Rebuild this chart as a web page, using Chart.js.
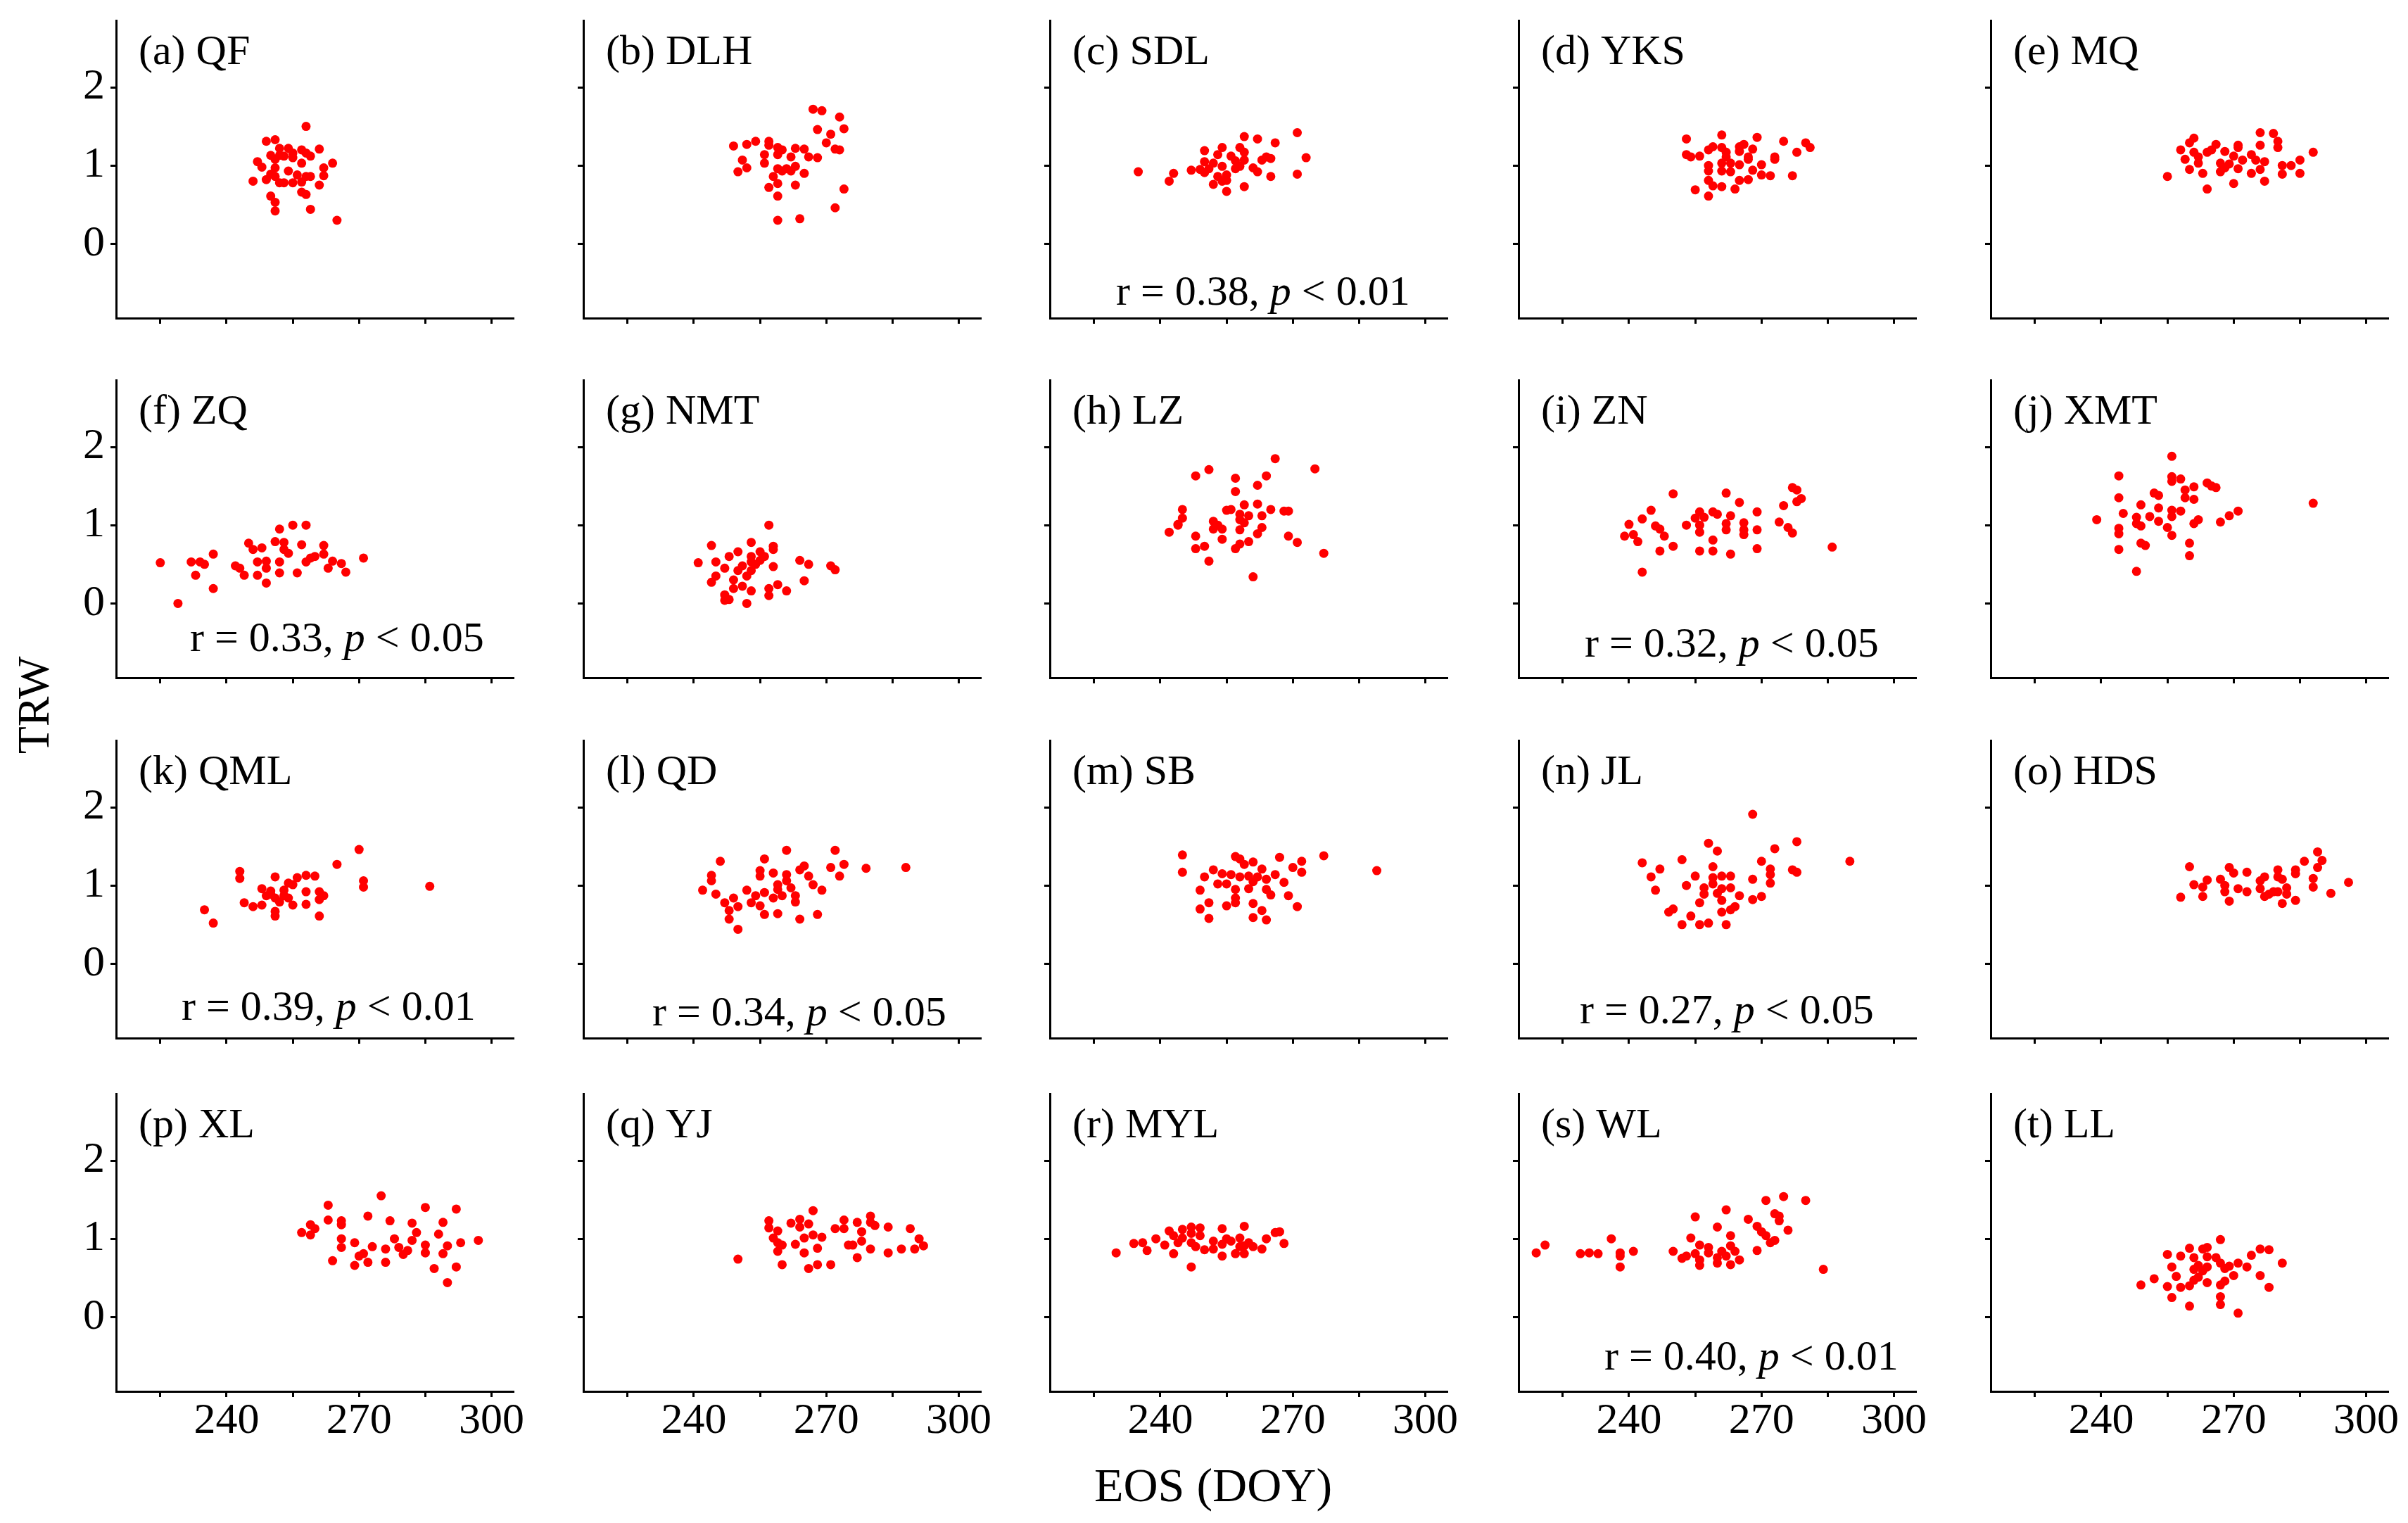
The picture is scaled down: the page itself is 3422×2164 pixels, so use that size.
<!DOCTYPE html>
<html>
<head>
<meta charset="utf-8">
<title>TRW vs EOS</title>
<script src="https://cdn.jsdelivr.net/npm/chart.js@4.4.1/dist/chart.umd.min.js"></script>
<style>
  html, body { margin: 0; padding: 0; background: #fff; }
  body { width: 3422px; height: 2164px; position: relative; overflow: hidden;
         font-family: "Liberation Serif", "Times New Roman", Times, "Nimbus Roman", "DejaVu Serif", serif; }
  .panel { position: absolute; }
  .axis-title { position: absolute; color: #000; white-space: nowrap;
                transform: translate(-50%, -50%); }
  #ylab { font-size: 64px; transform: translate(-50%, -50%) rotate(-90deg); }
  #xlab { font-size: 68px; }
</style>
</head>
<body>
<div id="ylab" class="axis-title" style="left:48px;top:1002px;">TRW</div>
<div id="xlab" class="axis-title" style="left:1724px;top:2110px;">EOS (DOY)</div>
<script>
/* ── data: EOS (DOY) vs TRW per site ── */
const eosQF  = [258,249,251,252,254,257,261,250,253,255,259,258,247,248,251,257,264,262,251,254,256,250,262,246,249,251,252,253,255,257,258,259,261,257,258,250,251,251,259,265,252,255];
const trwQF  = [1.50,1.31,1.33,1.22,1.22,1.20,1.21,1.13,1.12,1.10,1.12,1.16,1.05,0.98,1.08,1.03,1.03,0.97,0.97,0.93,0.88,0.89,0.87,0.80,0.82,0.86,0.78,0.78,0.78,0.79,0.86,0.86,0.75,0.66,0.63,0.61,0.53,0.42,0.44,0.30,1.13,1.16];

const eosDLH = [267,269,273,268,274,271,270,272,273,249,252,254,257,257,259,260,263,265,256,259,262,266,268,251,256,252,250,259,261,263,260,262,265,258,259,257,263,274,259,272,259,264];
const trwDLH = [1.72,1.70,1.62,1.46,1.47,1.40,1.29,1.21,1.20,1.25,1.27,1.31,1.31,1.26,1.23,1.20,1.22,1.21,1.14,1.14,1.11,1.11,1.10,1.07,1.03,0.97,0.92,0.96,0.96,0.99,0.93,0.93,0.90,0.86,0.77,0.72,0.75,0.70,0.61,0.46,0.30,0.32];

const eosSDL = [271,259,262,266,250,254,258,253,256,259,264,265,273,250,252,257,259,263,235,243,242,247,249,251,254,257,258,261,262,265,271,253,255,252,254,259,255,250,255];
const trwSDL = [1.42,1.37,1.34,1.29,1.19,1.23,1.23,1.14,1.12,1.17,1.11,1.09,1.10,1.05,1.03,1.06,1.07,1.07,0.92,0.90,0.80,0.94,0.95,0.96,0.99,0.96,0.99,0.97,0.92,0.86,0.89,0.86,0.88,0.76,0.80,0.73,0.67,0.91,0.81];

const eosYKS = [253,261,269,275,280,281,278,266,265,259,258,261,262,268,253,254,256,262,265,267,267,273,273,261,263,265,270,258,258,261,263,268,270,272,277,258,265,267,259,261,264,255,258];
const trwYKS = [1.34,1.39,1.36,1.31,1.29,1.23,1.17,1.27,1.24,1.24,1.20,1.23,1.17,1.21,1.14,1.11,1.12,1.11,1.18,1.11,1.08,1.11,1.08,1.03,1.03,1.01,1.01,1.00,0.93,0.93,0.92,0.94,0.88,0.87,0.87,0.81,0.81,0.82,0.74,0.73,0.70,0.69,0.61];

const eosMQ  = [276,279,280,280,276,261,260,266,271,258,261,264,265,268,271,274,288,259,262,270,272,275,277,285,262,267,269,281,283,260,268,271,276,255,263,267,274,281,285,270,277,264];
const trwMQ  = [1.42,1.41,1.31,1.23,1.26,1.35,1.29,1.27,1.26,1.20,1.17,1.17,1.20,1.18,1.23,1.14,1.17,1.08,1.11,1.12,1.07,1.07,1.05,1.07,1.03,1.03,1.02,1.00,1.00,0.95,0.97,0.96,0.95,0.86,0.90,0.92,0.90,0.89,0.90,0.77,0.80,0.70];

const eosZQ  = [225,229,232,234,235,233,237,237,242,243,244,245,246,248,247,247,249,249,249,251,252,253,252,252,253,254,255,258,257,256,258,259,260,262,262,264,263,266,267,271];
const trwZQ  = [0.52,0.00,0.53,0.53,0.50,0.36,0.63,0.19,0.48,0.45,0.36,0.77,0.69,0.71,0.53,0.36,0.54,0.45,0.26,0.79,0.95,0.78,0.53,0.39,0.69,0.64,1.00,1.00,0.75,0.39,0.53,0.58,0.60,0.74,0.63,0.54,0.45,0.51,0.40,0.58];

const eosNMT = [257,244,253,258,258,250,248,253,255,256,264,266,271,272,241,245,247,251,253,254,258,250,253,252,245,244,249,265,259,251,249,253,257,261,247,257,247,248,252,255];
const trwNMT = [1.00,0.74,0.78,0.73,0.69,0.66,0.60,0.60,0.66,0.60,0.55,0.50,0.48,0.43,0.52,0.53,0.45,0.48,0.53,0.50,0.47,0.42,0.42,0.35,0.35,0.27,0.30,0.29,0.24,0.22,0.19,0.16,0.19,0.16,0.11,0.10,0.04,0.05,0.00,0.55];

const eosLZ  = [266,251,275,248,264,257,262,257,245,255,256,259,262,265,268,269,258,260,263,245,258,252,259,244,244,253,252,254,263,258,242,248,262,269,254,271,258,260,248,250,257,277,251,261];
const trwLZ  = [1.85,1.71,1.72,1.63,1.63,1.60,1.51,1.43,1.20,1.19,1.20,1.26,1.27,1.20,1.18,1.18,1.14,1.12,1.12,1.09,1.07,1.05,1.03,1.01,1.00,1.00,0.95,0.95,0.97,0.94,0.91,0.86,0.89,0.86,0.82,0.78,0.76,0.79,0.70,0.73,0.70,0.64,0.54,0.34];

const eosZN  = [277,278,279,278,275,250,262,265,269,245,256,259,260,263,255,257,243,240,253,256,262,266,274,246,247,276,277,269,266,262,256,239,241,248,242,259,266,250,247,256,259,263,269,286,243];
const trwZN  = [1.48,1.45,1.34,1.30,1.25,1.40,1.41,1.29,1.17,1.19,1.17,1.17,1.14,1.12,1.09,1.10,1.08,1.01,1.00,1.00,1.02,1.03,1.04,0.99,0.95,0.97,0.90,0.94,0.94,0.94,0.91,0.86,0.88,0.86,0.79,0.81,0.88,0.73,0.67,0.67,0.67,0.63,0.70,0.72,0.40];

const eosXMT = [256,244,256,258,256,261,264,266,265,259,252,253,244,259,261,249,288,245,253,256,258,256,251,248,239,271,269,253,267,262,261,248,249,244,255,244,256,249,250,260,244,260,248];
const trwXMT = [1.88,1.63,1.62,1.59,1.56,1.49,1.54,1.48,1.50,1.45,1.41,1.38,1.35,1.35,1.33,1.26,1.28,1.15,1.22,1.19,1.18,1.11,1.11,1.10,1.07,1.18,1.12,1.05,1.04,1.07,1.02,1.02,0.99,0.96,0.97,0.89,0.87,0.77,0.74,0.77,0.69,0.61,0.41];

const eosQML = [270,265,243,243,251,256,258,260,254,255,271,271,286,248,250,253,258,261,249,251,253,262,261,244,246,248,252,255,258,251,251,261,235,237,254,250];
const trwQML = [1.46,1.27,1.18,1.09,1.11,1.10,1.13,1.12,1.03,1.01,1.06,0.98,0.99,0.96,0.93,0.94,0.92,0.92,0.87,0.84,0.87,0.87,0.82,0.78,0.73,0.75,0.79,0.75,0.76,0.67,0.61,0.61,0.69,0.52,0.84,0.89];

const eosQD  = [261,272,246,256,265,274,271,279,288,255,258,264,255,261,244,244,266,273,261,259,267,262,242,252,259,269,245,256,254,260,263,249,258,253,263,247,250,255,248,256,259,268,248,264,250];
const trwQD  = [1.45,1.45,1.31,1.34,1.25,1.27,1.23,1.22,1.23,1.19,1.16,1.20,1.12,1.14,1.13,1.06,1.12,1.12,1.06,1.01,1.01,0.97,0.94,0.94,0.95,0.94,0.89,0.91,0.87,0.87,0.87,0.84,0.84,0.78,0.79,0.78,0.73,0.74,0.68,0.63,0.64,0.63,0.57,0.57,0.44];

const eosSB  = [245,245,257,258,259,261,267,272,277,289,263,270,272,252,250,254,256,258,260,262,264,266,261,253,255,260,257,268,264,249,265,269,257,257,251,255,261,271,249,263,251,261,264];
const trwSB  = [1.39,1.17,1.37,1.34,1.27,1.30,1.36,1.31,1.38,1.19,1.21,1.23,1.17,1.20,1.11,1.15,1.14,1.11,1.12,1.11,1.08,1.14,1.05,1.02,1.02,0.96,0.95,1.04,0.95,0.94,0.88,0.87,0.84,0.78,0.78,0.74,0.77,0.73,0.70,0.68,0.58,0.59,0.56];

const eosJL  = [268,278,258,260,273,252,243,270,290,247,259,272,272,277,278,245,255,259,261,263,268,272,253,257,259,261,263,246,257,260,265,270,261,268,256,264,263,250,249,261,254,252,256,258,262];
const trwJL  = [1.91,1.56,1.54,1.44,1.47,1.33,1.29,1.31,1.31,1.21,1.24,1.21,1.14,1.20,1.17,1.11,1.12,1.10,1.12,1.12,1.08,1.03,1.00,0.97,1.02,0.96,0.97,0.94,0.89,0.90,0.87,0.86,0.81,0.82,0.78,0.73,0.69,0.70,0.66,0.66,0.61,0.50,0.50,0.52,0.50];

const eosHDS = [260,258,261,263,264,263,267,268,268,269,270,269,271,273,273,276,277,276,277,278,280,280,281,280,282,282,281,284,284,284,286,289,290,289,288,288,292,296,279];
const trwHDS = [1.24,0.85,1.01,0.98,1.07,0.86,1.08,1.00,0.92,1.23,1.16,0.80,0.96,1.17,0.92,1.06,1.11,0.96,0.86,0.89,1.20,1.11,1.08,0.92,0.97,0.89,0.77,1.20,1.15,0.81,1.31,1.43,1.32,1.23,1.09,0.98,0.90,1.04,0.92];

const eosXL  = [275,263,285,292,272,263,266,266,277,282,289,259,260,257,259,283,288,266,278,282,269,293,297,285,290,266,273,276,279,281,271,270,280,285,289,264,272,276,269,287,292,290];
const trwXL  = [1.55,1.43,1.40,1.38,1.29,1.24,1.23,1.18,1.23,1.20,1.21,1.18,1.13,1.08,1.05,1.08,1.06,1.00,1.00,0.98,0.95,0.95,0.98,0.92,0.91,0.89,0.90,0.87,0.89,0.85,0.81,0.78,0.80,0.82,0.81,0.72,0.70,0.70,0.66,0.62,0.64,0.44];

const eosYJ  = [267,257,257,262,264,264,266,274,277,280,280,281,284,289,272,274,259,278,267,265,269,258,259,260,263,275,276,278,291,292,268,280,287,290,259,265,284,277,250,260,268,271,266];
const trwYJ  = [1.36,1.23,1.14,1.20,1.25,1.15,1.19,1.24,1.21,1.29,1.21,1.17,1.15,1.13,1.13,1.13,1.10,1.09,1.05,1.01,1.02,1.01,0.95,0.92,0.93,0.92,0.92,0.97,1.00,0.91,0.88,0.87,0.87,0.87,0.84,0.82,0.82,0.76,0.74,0.67,0.67,0.67,0.62];

const eosMYL = [230,234,236,237,239,241,242,243,243,244,245,245,247,247,247,248,249,249,250,252,252,254,254,254,255,256,258,259,258,257,259,260,261,263,264,266,267,268,247,259];
const trwMYL = [0.82,0.94,0.95,0.85,1.00,0.92,1.10,1.04,0.81,0.95,1.12,1.01,1.15,1.07,0.95,0.90,1.14,1.04,0.86,0.87,0.97,1.13,0.93,0.78,1.00,0.97,1.01,1.16,0.90,0.81,0.81,0.95,0.90,0.87,1.00,1.08,1.09,0.94,0.64,0.91];

const eosWL  = [219,221,229,231,233,236,238,238,238,241,250,252,253,256,256,255,254,255,256,258,258,260,260,260,261,262,262,263,263,263,264,265,267,269,269,270,271,272,273,273,274,274,276,271,275,280,284];
const trwWL  = [0.82,0.92,0.81,0.82,0.81,1.00,0.82,0.78,0.64,0.84,0.84,0.75,0.78,0.73,0.66,0.81,1.01,1.28,0.92,0.89,0.82,1.15,0.76,0.69,0.84,1.37,0.78,1.04,0.91,0.67,0.84,0.73,1.25,1.16,0.85,1.09,1.04,0.95,0.98,1.32,1.29,1.23,1.11,1.49,1.54,1.49,0.61];

const eosLL  = [267,260,263,264,276,278,255,258,261,264,266,274,281,271,269,273,267,256,262,264,261,263,268,257,262,270,276,252,261,268,249,255,258,260,264,267,278,256,267,267,260,271];
const trwLL  = [0.99,0.88,0.87,0.89,0.87,0.86,0.80,0.78,0.76,0.77,0.76,0.79,0.69,0.69,0.65,0.64,0.69,0.64,0.66,0.64,0.61,0.59,0.62,0.52,0.51,0.53,0.53,0.49,0.47,0.46,0.41,0.39,0.38,0.40,0.44,0.41,0.38,0.25,0.26,0.16,0.14,0.05];

const panelIds   = ['a','b','c','d','e','f','g','h','i','j','k','l','m','n','o','p','q','r','s','t'];
const siteNames  = ['QF','DLH','SDL','YKS','MQ','ZQ','NMT','LZ','ZN','XMT','QML','QD','SB','JL','HDS','XL','YJ','MYL','WL','LL'];
const eosSeries  = [eosQF,eosDLH,eosSDL,eosYKS,eosMQ,eosZQ,eosNMT,eosLZ,eosZN,eosXMT,eosQML,eosQD,eosSB,eosJL,eosHDS,eosXL,eosYJ,eosMYL,eosWL,eosLL];
const trwSeries  = [trwQF,trwDLH,trwSDL,trwYKS,trwMQ,trwZQ,trwNMT,trwLZ,trwZN,trwXMT,trwQML,trwQD,trwSB,trwJL,trwHDS,trwXL,trwYJ,trwMYL,trwWL,trwLL];

// significant correlations (r, p threshold)
const statPanels = ['c','f','i','k','l','n','s'];
const statR      = ['0.38','0.33','0.32','0.39','0.34','0.27','0.40'];
const statP      = ['0.01','0.05','0.05','0.01','0.05','0.05','0.01'];

const xTicks  = [225, 240, 255, 270, 285, 300];
const xLabels = [240, 270, 300];
const yTicks  = [0, 1, 2];

/* ── layout ── */
const COL_X    = [165, 829, 1492, 2158, 2829];   // y-axis line
const ROW_TOP  = [22.5, 534, 1045.5, 1548];      // top of plot area
const PLOT_W = 565, PLOT_H = 429;
const Y_W = 100, X_H = 90, PAD_R = 60;
const FONT = '"Liberation Serif", "Times New Roman", Times, "Nimbus Roman", "DejaVu Serif", serif';
// where the r/p note sits: [offset from y-axis, baseline above x-axis]
const statPos = { c: [94, 19], f: [105, 38], i: [94, 30], k: [93, 26], l: [98, 18], n: [87, 21], s: [122, 31] };

const panelText = {
  id: 'panelText',
  afterDraw(chart, args, opts) {
    const { ctx, chartArea: a } = chart;
    ctx.save();
    ctx.fillStyle = '#000';
    ctx.textAlign = 'left';
    ctx.textBaseline = 'alphabetic';
    ctx.font = `60px ${FONT}`;
    ctx.fillText(opts.title, a.left + 32, a.top + 61);
    if (opts.stat) {
      const [r, p] = opts.stat;
      const [dx, dy] = opts.pos;
      let x = a.left + dx;
      const y = a.bottom - dy;
      [[`r = ${r}, `, ''], ['p', 'italic '], [` < ${p}`, '']].forEach(([t, st]) => {
        ctx.font = `${st}60px ${FONT}`;
        ctx.fillText(t, x, y);
        x += ctx.measureText(t).width;
      });
    }
    ctx.restore();
  }
};

function makePanel(k) {
  const col = k % 5, row = Math.floor(k / 5);
  const id = panelIds[k];
  const leftCol = col === 0, bottomRow = row === 3;

  const box = document.createElement('div');
  box.className = 'panel';
  const w = Y_W + PLOT_W + PAD_R, h = PLOT_H + X_H;
  box.style.left = (COL_X[col] - Y_W) + 'px';
  box.style.top = ROW_TOP[row] + 'px';
  box.style.width = w + 'px';
  box.style.height = h + 'px';
  const cv = document.createElement('canvas');
  cv.width = w; cv.height = h;
  box.appendChild(cv);
  document.body.appendChild(box);

  const si = statPanels.indexOf(id);
  const axisCommon = {
    type: 'linear',
    grid: { drawOnChartArea: false, drawTicks: true, tickLength: 8, tickWidth: 3, tickColor: '#000' },
    border: { display: true, color: '#000', width: 3 },
  };

  new Chart(cv, {
    type: 'scatter',
    data: {
      datasets: [{
        data: eosSeries[k].map((x, i) => ({ x, y: trwSeries[k][i] })),
        backgroundColor: '#ff0000',
        borderWidth: 0,
        pointRadius: 6.5,
        pointHoverRadius: 6.5,
      }],
    },
    options: {
      responsive: false,
      animation: false,
      devicePixelRatio: 1,
      events: [],
      layout: { padding: { left: 0, right: PAD_R, top: 0, bottom: 0 } },
      plugins: {
        legend: { display: false },
        tooltip: { enabled: false },
        panelText: {
          title: `(${id}) ${siteNames[k]}`,
          stat: si >= 0 ? [statR[si], statP[si]] : null,
          pos: statPos[id],
        },
      },
      scales: {
        x: {
          ...axisCommon,
          min: 215, max: 305,
          afterBuildTicks: s => { s.ticks = xTicks.map(v => ({ value: v })); },
          afterFit: s => { s.height = X_H; s.paddingLeft = 0; s.paddingRight = 0; },
          ticks: {
            autoSkip: false, maxRotation: 0, padding: -2, color: '#000',
            font: { family: FONT, size: 62 },
            callback: v => (bottomRow && xLabels.includes(v)) ? String(v) : '',
          },
        },
        y: {
          ...axisCommon,
          min: -0.95, max: 2.85,
          afterBuildTicks: s => { s.ticks = yTicks.map(v => ({ value: v })); },
          afterFit: s => { s.width = Y_W; s.paddingTop = 0; s.paddingBottom = 0; },
          ticks: {
            autoSkip: false, padding: 8, color: '#000',
            font: { family: FONT, size: 62 },
            callback: v => leftCol ? String(v) : '',
          },
        },
      },
    },
    plugins: [panelText],
  });
}

panelIds.forEach((_, k) => makePanel(k));
</script>
</body>
</html>
